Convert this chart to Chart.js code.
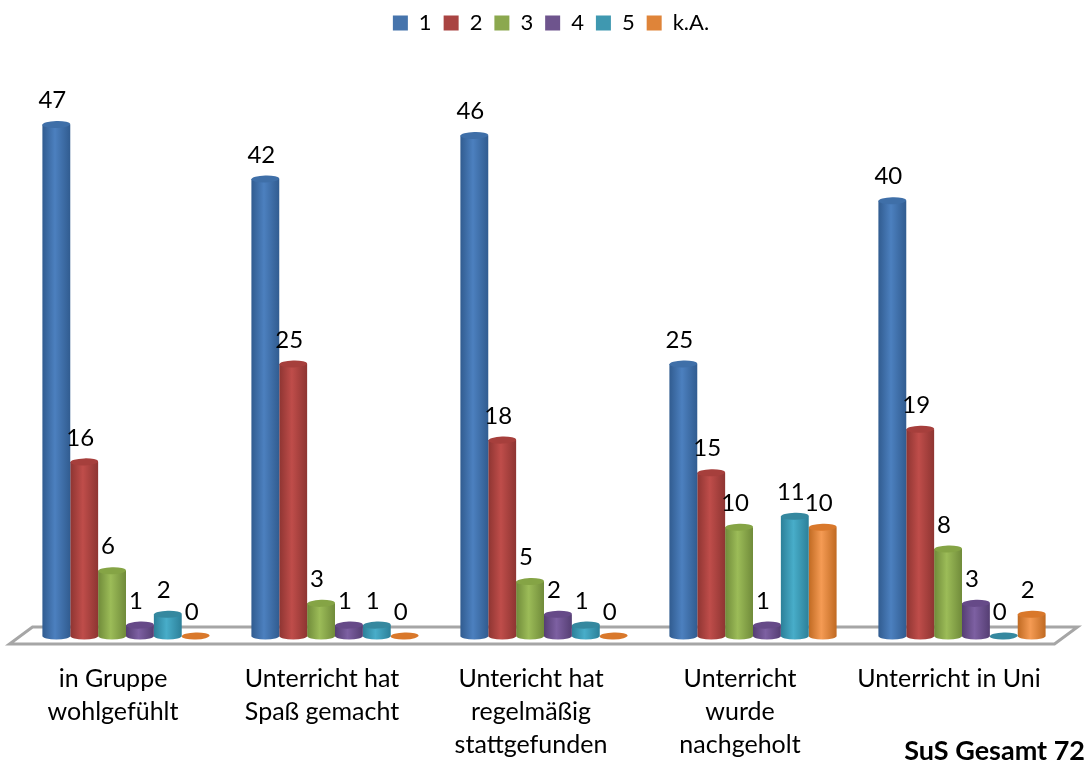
<!DOCTYPE html>
<html>
<head>
<meta charset="utf-8">
<title>SuS Gesamt 72</title>
<script src="https://cdn.jsdelivr.net/npm/chart.js@4/dist/chart.umd.min.js"></script>
<style>
    html, body { margin: 0; padding: 0; background: #fff; }
    canvas { display: block; }
</style>
</head>
<body>
<canvas id="chart" width="1089" height="764"></canvas>
<script>
// Chart data
const categories = [
    ['in Gruppe', 'wohlgefühlt'],
    ['Unterricht hat', 'Spaß gemacht'],
    ['Untericht hat', 'regelmäßig', 'stattgefunden'],
    ['Unterricht', 'wurde', 'nachgeholt'],
    ['Unterricht in Uni']
];
const seriesNames = ['1', '2', '3', '4', '5', 'k.A.'];
const values1 = [47, 42, 46, 25, 40];
const values2 = [16, 25, 18, 15, 19];
const values3 = [6, 3, 5, 10, 8];
const values4 = [1, 1, 2, 1, 3];
const values5 = [2, 1, 1, 11, 0];
const valuesKA = [0, 0, 0, 10, 2];
const footnote = 'SuS Gesamt 72';

const legendColors = ['#4674ac', '#a94442', '#8ba84e', '#6e548d', '#3f98b0', '#df8439'];
// edge, middle, top face of each cylinder
const cylinderColors = [
    ['#315c90', '#4c80bf', '#3f6fa8'],
    ['#8e3532', '#bf4d4a', '#a63f3c'],
    ['#708b3a', '#9cbc58', '#85a445'],
    ['#553e73', '#7d60a2', '#664a88'],
    ['#2c8099', '#48adc9', '#35889f'],
    ['#c06a22', '#f59b54', '#d9782b']
];

const FONT = 'Lato, Carlito, sans-serif';

// Bar element drawn as a small 3D cylinder, position and size come from the bar scale
class CylinderElement extends Chart.BarElement {
    draw(ctx) {
        const { x, y, base, width } = this.getProps(['x', 'y', 'base', 'width'], true);
        const colors = cylinderColors[legendColors.indexOf(this.options.backgroundColor)];
        const rx = width / 2;
        const ry = 3.5;
        const tilt = -0.03;

        ctx.save();
        if (base - y > 1) {
            const grad = ctx.createLinearGradient(x - rx, 0, x + rx, 0);
            grad.addColorStop(0, colors[0]);
            grad.addColorStop(0.45, colors[1]);
            grad.addColorStop(1, colors[0]);
            ctx.fillStyle = grad;
            ctx.beginPath();
            ctx.moveTo(x - rx, y);
            ctx.lineTo(x - rx, base);
            ctx.ellipse(x, base, rx, ry, 0, Math.PI, 0, true);
            ctx.lineTo(x + rx, y);
            ctx.closePath();
            ctx.fill();
        }
        ctx.fillStyle = colors[2];
        ctx.beginPath();
        ctx.ellipse(x, y, rx, ry, tilt, 0, Math.PI * 2);
        ctx.fill();
        ctx.restore();
    }
}
CylinderElement.id = 'cylinderBar';

class CylinderController extends Chart.BarController {}
CylinderController.id = 'cylinder';
CylinderController.defaults = Object.assign({}, Chart.BarController.defaults, { dataElementType: 'cylinderBar' });
CylinderController.overrides = Chart.BarController.overrides;

Chart.register(CylinderElement, CylinderController);

// Grey floor the cylinders stand on
const floorPlugin = {
    id: 'floor',
    afterLayout(chart) {
        // legend sits a little right of the plot centre in the original
        chart.legend.left += 7;
        chart.legend.right += 7;
    },
    beforeDatasetsDraw(chart) {
        const { ctx, chartArea, scales } = chart;
        const base = scales.y.getPixelForValue(0);
        ctx.save();
        ctx.strokeStyle = '#a6a6a6';
        ctx.lineWidth = 3;
        ctx.lineJoin = 'miter';
        ctx.beginPath();
        ctx.moveTo(chartArea.left + 11, base - 9);
        ctx.lineTo(chartArea.right + 11, base - 9);
        ctx.lineTo(chartArea.right - 12, base + 8);
        ctx.lineTo(chartArea.left - 12, base + 8);
        ctx.closePath();
        ctx.stroke();
        ctx.restore();
    }
};

// Value labels over each bar plus the note at the bottom right
const labelPlugin = {
    id: 'valueLabels',
    afterDatasetsDraw(chart) {
        const { ctx } = chart;
        ctx.save();
        ctx.fillStyle = '#000';
        ctx.font = '24px ' + FONT;
        ctx.textAlign = 'center';
        ctx.textBaseline = 'middle';
        chart.data.datasets.forEach((ds, i) => {
            chart.getDatasetMeta(i).data.forEach((bar, j) => {
                ctx.fillText(ds.data[j], bar.x - 4, bar.y - 24);
            });
        });
        ctx.font = 'bold 27px ' + FONT;
        ctx.textAlign = 'right';
        ctx.fillText(footnote, chart.width - 4, 751);
        ctx.restore();
    }
};

const allValues = [values1, values2, values3, values4, values5, valuesKA];

new Chart(document.getElementById('chart'), {
    type: 'cylinder',
    data: {
        labels: categories,
        datasets: allValues.map((vals, i) => ({
            label: seriesNames[i],
            data: vals,
            backgroundColor: legendColors[i],
            categoryPercentage: 0.8,
            barPercentage: 1,
            clip: false
        }))
    },
    plugins: [floorPlugin, labelPlugin],
    options: {
        responsive: false,
        animation: false,
        layout: { padding: { left: 21.5, right: 22.5, top: 0, bottom: 0 } },
        plugins: {
            tooltip: { enabled: false },
            legend: {
                position: 'top',
                labels: {
                    boxWidth: 15,
                    boxHeight: 15,
                    padding: 12,
                    color: '#000',
                    font: { family: FONT, size: 22 }
                }
            }
        },
        scales: {
            x: {
                grid: { display: false },
                border: { display: false },
                afterFit(scale) { scale.height = 128; },
                ticks: {
                    autoSkip: false,
                    maxRotation: 0,
                    minRotation: 0,
                    padding: 18,
                    labelOffset: -13,
                    color: '#000',
                    font: { family: FONT, size: 25, lineHeight: 1.32 }
                }
            },
            y: {
                display: false,
                min: 0,
                max: 54.4
            }
        }
    }
});
</script>
</body>
</html>
